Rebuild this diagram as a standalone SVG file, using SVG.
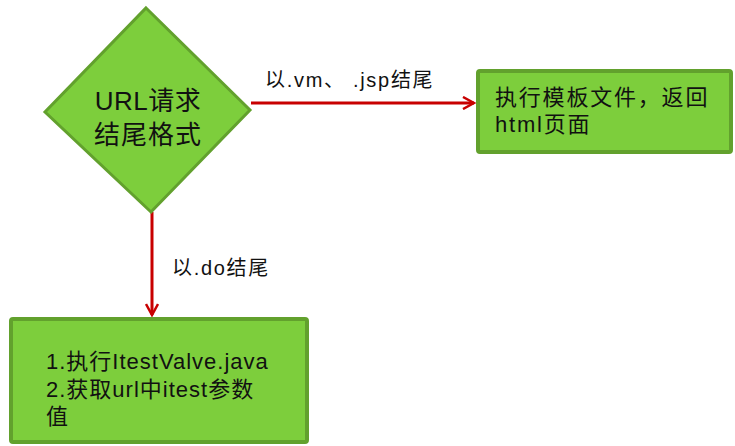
<svg xmlns="http://www.w3.org/2000/svg" width="735" height="446" viewBox="0 0 735 446">
<style>
.node{fill:#7dce3c;stroke:#62a12d;stroke-width:4}
.dia{fill:#7dce3c;stroke:#62a12d;stroke-width:3}
.t{font-family:"Liberation Sans","Noto Sans CJK SC",sans-serif;fill:#111}
.edge{stroke:#c80000;stroke-width:3;fill:none}
.lbl{font-family:"Liberation Sans","Noto Sans CJK SC",sans-serif;font-size:20px;letter-spacing:1.7px;fill:#111}
</style>
<defs>
<marker id="arr" viewBox="0 0 14 14" refX="12" refY="7" markerWidth="14" markerHeight="14" markerUnits="userSpaceOnUse" orient="auto">
<path d="M1,1 L12,7 L1,13" fill="none" stroke="#c80000" stroke-width="2.5"/>
</marker>
</defs>
<rect width="735" height="446" fill="#fff"/>
<g id="connectors">
<line class="edge" x1="251" y1="103" x2="474" y2="103" marker-end="url(#arr)"/>
<line class="edge" x1="152" y1="212" x2="152" y2="315" marker-end="url(#arr)"/>
<text class="lbl" x="265" y="87">以.vm、 .jsp结尾</text>
<text class="lbl" x="172" y="275">以.do结尾</text>
</g>
<g id="decision">
<polygon class="dia" points="146,8 250,110 151,212 45,112"/>
<text class="t" font-size="26" x="148" y="110" text-anchor="middle" letter-spacing="0.5">URL请求</text>
<text class="t" font-size="26" x="148" y="144" text-anchor="middle" letter-spacing="1">结尾格式</text>
</g>
<g id="template">
<rect class="node" x="478" y="71" width="253" height="81" rx="2"/>
<text class="t" font-size="22" x="495" y="105" letter-spacing="1.8">执行模板文件，返回</text>
<text class="t" font-size="22" x="495" y="132" letter-spacing="1.8">html页面</text>
</g>
<g id="valve">
<rect class="node" x="11" y="319" width="296" height="123" rx="2"/>
<text class="t" font-size="22" x="46" y="369" letter-spacing="1">1.执行ItestValve.java</text>
<text class="t" font-size="22" x="46" y="397" letter-spacing="1">2.获取url中itest参数</text>
<text class="t" font-size="22" x="46" y="424" letter-spacing="1">值</text>
</g>
</svg>
